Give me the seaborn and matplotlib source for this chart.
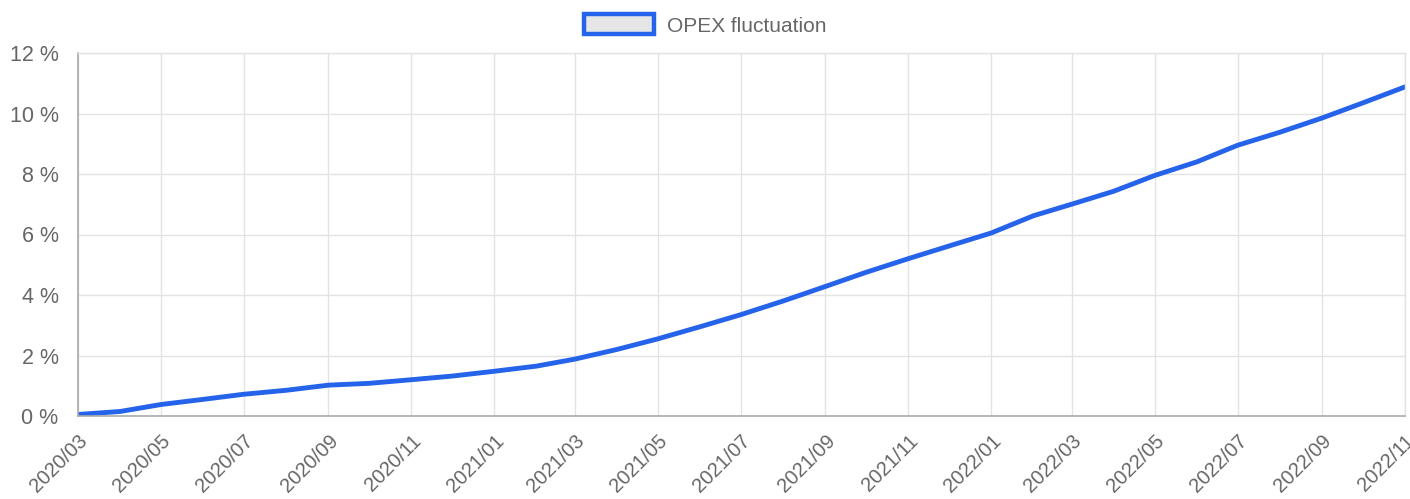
# Imports:
import pandas as pd
import matplotlib
matplotlib.use("Agg")
import matplotlib.pyplot as plt
import matplotlib.dates as mdates
from matplotlib.patches import Patch
import seaborn as sns

# Data:
months = pd.date_range("2020-03-01", "2022-11-01", freq="MS")
opex_pct = [
    0.05, 0.15, 0.38, 0.55, 0.72, 0.85, 1.02, 1.08, 1.20, 1.32, 1.48,
    1.65, 1.88, 2.20, 2.55, 2.95, 3.35, 3.80, 4.28, 4.75, 5.20, 5.62,
    6.05, 6.62, 7.00, 7.43, 7.95, 8.40, 8.95, 9.38, 9.85, 10.35, 10.88,
]
series_name = "OPEX fluctuation"

dataframe = pd.DataFrame({"month": months, "value": opex_pct})

# Style:
sns.set_theme(style="white")
plt.rcParams["font.family"] = ["Liberation Sans", "DejaVu Sans"]

line_color = "#2563eb"
grid_color = "#e3e3e3"
text_color = "#666666"

# Figure:
fig = plt.figure(figsize=(14.1, 4.99), dpi=100)
ax = fig.add_axes([78 / 1410, 1 - 416 / 499, (1405 - 78) / 1410, (416 - 53) / 499])

# Line:
sns.lineplot(data=dataframe, x="month", y="value", ax=ax,
             color=line_color, linewidth=3.5, legend=False)

# Axes:
ax.set_xlim(months[0], months[-1])
ax.set_ylim(0, 12)
ax.set_yticks(range(0, 13, 2))
ax.set_yticklabels([f"{v} %" for v in range(0, 13, 2)])
ax.set_xticks(months[::2])
ax.xaxis.set_major_formatter(mdates.DateFormatter("%Y/%m"))
ax.set_xlabel("")
ax.set_ylabel("")

ax.grid(True, color=grid_color, linewidth=1)
ax.set_axisbelow(True)
for side in ["top", "right"]:
    ax.spines[side].set_color(grid_color)
    ax.spines[side].set_linewidth(1)
for side in ["left", "bottom"]:
    ax.spines[side].set_color("#aaaaaa")
    ax.spines[side].set_linewidth(1.2)

ax.tick_params(axis="y", length=12, width=1, color=grid_color,
               labelsize=15.5, labelcolor=text_color, pad=2, direction="out")
ax.tick_params(axis="x", length=9, width=1, color=grid_color,
               labelsize=14.5, labelcolor=text_color, pad=2, direction="out")
plt.setp(ax.get_xticklabels(), rotation=45, ha="right", rotation_mode="anchor")

# Legend:
handle = Patch(facecolor="#e6e6e6", edgecolor=line_color, linewidth=3.2)
legend = fig.legend([handle], [series_name], loc="center", bbox_to_anchor=(0.5, 1 - 25 / 499),
                    frameon=False, fontsize=15, handlelength=3.4, handleheight=1.1,
                    handletextpad=0.6)
for text in legend.get_texts():
    text.set_color(text_color)

# Save:
fig.savefig("out.png", dpi=100)
